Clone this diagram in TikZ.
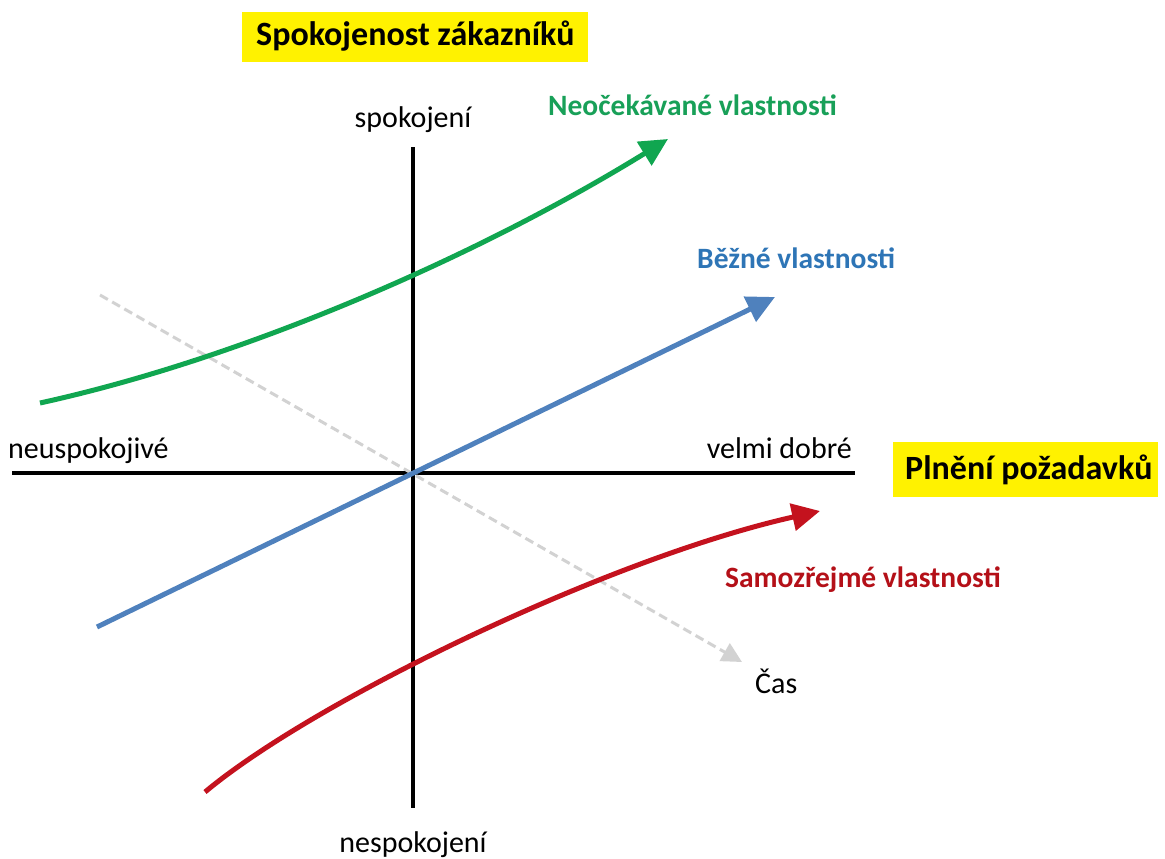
\documentclass[tikz,border=0pt]{standalone}
\usepackage{fontspec}
\setmainfont{Carlito}
\usetikzlibrary{arrows.meta}
\definecolor{kgreen}{RGB}{16,166,80}
\definecolor{kgreenT}{RGB}{24,160,88}
\definecolor{kblue}{RGB}{79,129,189}
\definecolor{kblueT}{RGB}{46,117,182}
\definecolor{kred}{RGB}{196,18,30}
\definecolor{kredT}{RGB}{180,16,24}
\definecolor{kgrey}{RGB}{210,210,210}
\begin{document}
\begin{tikzpicture}[x=1pt,y=-1pt,
  axis/.style={line width=4.5pt,black},
  curve/.style={line width=5pt,-{Triangle[length=28pt,width=27pt]}},
  lbl/.style={inner sep=0pt,anchor=base west,font=\fontsize{30}{36}\selectfont},
  clbl/.style={lbl,font=\fontsize{29.5}{36}\selectfont\bfseries},
  title/.style={fill=yellow,inner sep=0pt,font=\fontsize{34}{40}\selectfont\bfseries}]
\useasboundingbox (0,0) rectangle (1165,859);
% axes
\coordinate (top) at (413,147);
\coordinate (bot) at (413,808);
\coordinate (lft) at (12,473);
\coordinate (rgt) at (855,473);
\draw[axis] (top) -- (bot);
\draw[axis] (lft) -- (rgt);
% time direction
\coordinate (t0) at (100,295);
\coordinate (t1) at (742,662);
\draw[kgrey,line width=3pt,dash pattern=on 9pt off 5pt,
  -{Triangle[length=20pt,width=20pt]}] (t0) -- (t1);
% expected features
\coordinate (b0) at (97,627);
\coordinate (b1) at (775,297);
\draw[curve,kblue] (b0) -- (b1);
% unexpected features
\coordinate (g0) at (40,403);
\coordinate (g1) at (668,139);
\draw[curve,kgreen] (g0) .. controls (250,357) and (485,252) .. (g1);
% basic features
\coordinate (r0) at (205,792);
\coordinate (r1) at (820,511);
\draw[curve,kred] (r0) .. controls (315,700) and (610,558) .. (r1);
% titles
\node[title,minimum width=346pt,minimum height=50pt] (ty) at (415,37) {};
\node[inner sep=0pt,anchor=base west,font=\fontsize{34}{40}\selectfont\bfseries] (tyt) at (256,46) {Spokojenost zákazníků};
\node[title,minimum width=265pt,minimum height=55pt] (tx) at (1025.5,469.5) {};
\node[inner sep=0pt,anchor=base west,font=\fontsize{34}{40}\selectfont\bfseries] (txt) at (905,479) {Plnění požadavků};
% axis labels
\node[lbl,anchor=base] (spok) at (413,128) {spokojení};
\node[lbl,anchor=base] (nespok) at (413,852) {nespokojení};
\node[lbl] (neusp) at (8,458) {neuspokojivé};
\node[lbl,anchor=base east] (dobre) at (852,458) {velmi dobré};
\node[lbl] (cas) at (755,693) {Čas};
% curve labels
\node[clbl,text=kgreenT] (lg) at (548,115) {Neočekávané vlastnosti};
\node[clbl,text=kblueT] (lb) at (697,268) {Běžné vlastnosti};
\node[clbl,text=kredT] (lr) at (725,587) {Samozřejmé vlastnosti};
\end{tikzpicture}
\end{document}
